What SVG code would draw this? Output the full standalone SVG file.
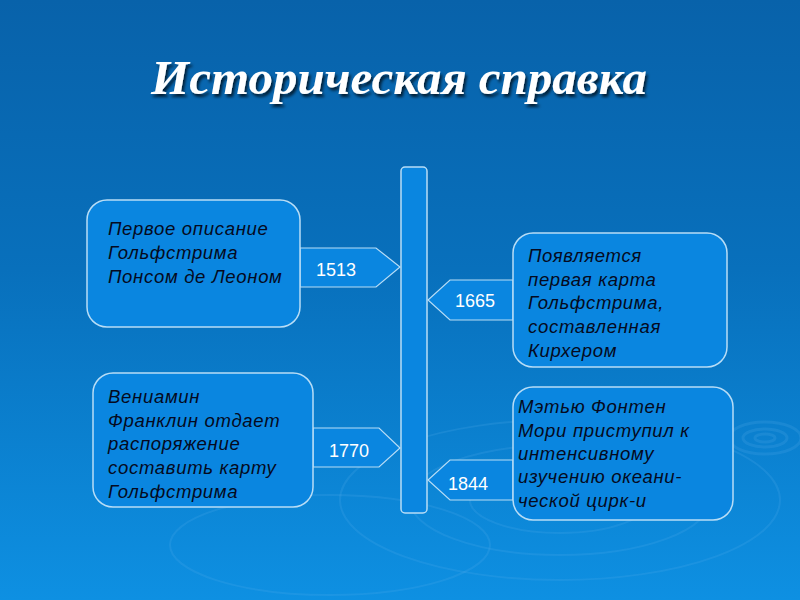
<svg xmlns="http://www.w3.org/2000/svg" width="800" height="600" viewBox="0 0 800 600">
<defs>
<linearGradient id="bg" x1="0" y1="0" x2="0" y2="1">
<stop offset="0" stop-color="#0862AA"/>
<stop offset="0.45" stop-color="#0870BC"/>
<stop offset="1" stop-color="#0E90E2"/>
</linearGradient>
<filter id="sh" x="-5%" y="-20%" width="110%" height="150%">
<feDropShadow dx="2" dy="3" stdDeviation="1.5" flood-color="#000" flood-opacity="0.7"/>
</filter>
</defs>
<style>
.box{fill:#0A86E0;stroke:#B8DDF6;stroke-width:1.5}
.arr{fill:#0A86E0;stroke:#B8DDF6;stroke-width:1.2}
.t{font-family:"Liberation Sans",Arial,sans-serif;font-style:italic;font-size:18.5px;letter-spacing:0.7px;fill:#050a20}
.y{font-family:"Liberation Sans",Arial,sans-serif;font-size:18px;fill:#ffffff}
.rip{fill:none;stroke:#5FB4EE;stroke-opacity:0.18}
</style>
<rect width="800" height="600" fill="url(#bg)"/>
<g id="ripples">
<ellipse class="rip" cx="765" cy="438" rx="36" ry="16" stroke-width="3"/>
<ellipse class="rip" cx="765" cy="438" rx="22" ry="9" stroke-width="3"/>
<ellipse class="rip" cx="765" cy="438" rx="10" ry="4" stroke-width="3"/>
<ellipse class="rip" cx="560" cy="500" rx="220" ry="80" stroke-width="2"/>
<ellipse class="rip" cx="560" cy="500" rx="150" ry="55" stroke-width="2"/>
<ellipse class="rip" cx="560" cy="500" rx="90" ry="33" stroke-width="2"/>
<ellipse class="rip" cx="330" cy="545" rx="160" ry="50" stroke-width="2"/>
</g>
<text x="399" y="94" text-anchor="middle" font-family="'Liberation Serif','Times New Roman',serif" font-weight="bold" font-style="italic" font-size="49" fill="#ffffff" filter="url(#sh)">Историческая справка</text>
<g id="timeline"><rect x="401" y="167" width="26" height="346" rx="4" class="box" stroke-width="1.2"/></g>
<g id="connectors">
<g id="c1513"><polygon class="arr" points="300,248 376,248 400,267 376,287 300,287"/><text class="y" x="316" y="276">1513</text></g>
<g id="c1665"><polygon class="arr" points="513,280 450,280 428,300 450,320 513,320"/><text class="y" x="455" y="307">1665</text></g>
<g id="c1770"><polygon class="arr" points="313,428 379,428 400,448 379,467 313,467"/><text class="y" x="329" y="457">1770</text></g>
<g id="c1844"><polygon class="arr" points="513,460 450,460 428,480 450,500 513,500"/><text class="y" x="448" y="490">1844</text></g>
</g>
<g id="n1">
<rect class="box" x="87" y="200" width="213" height="127" rx="20"/>
<text class="t" x="108" y="235">Первое описание</text>
<text class="t" x="108" y="259">Гольфстрима</text>
<text class="t" x="108" y="283">Понсом де Леоном</text>
</g>
<g id="n2">
<rect class="box" x="513" y="233" width="214" height="134" rx="20"/>
<text class="t" x="528" y="262">Появляется</text>
<text class="t" x="528" y="286">первая карта</text>
<text class="t" x="528" y="309">Гольфстрима,</text>
<text class="t" x="528" y="333">составленная</text>
<text class="t" x="528" y="357">Кирхером</text>
</g>
<g id="n3">
<rect class="box" x="93" y="373" width="220" height="134" rx="20"/>
<text class="t" x="108" y="403">Вениамин</text>
<text class="t" x="108" y="427">Франклин отдает</text>
<text class="t" x="108" y="450">распоряжение</text>
<text class="t" x="108" y="474">составить карту</text>
<text class="t" x="108" y="498">Гольфстрима</text>
</g>
<g id="n4">
<rect class="box" x="513" y="387" width="220" height="133" rx="20"/>
<text class="t" x="518" y="413">Мэтью Фонтен</text>
<text class="t" x="518" y="437">Мори приступил к</text>
<text class="t" x="518" y="460">интенсивному</text>
<text class="t" x="518" y="483">изучению океани-</text>
<text class="t" x="518" y="507">ческой цирк-и</text>
</g>
</svg>
